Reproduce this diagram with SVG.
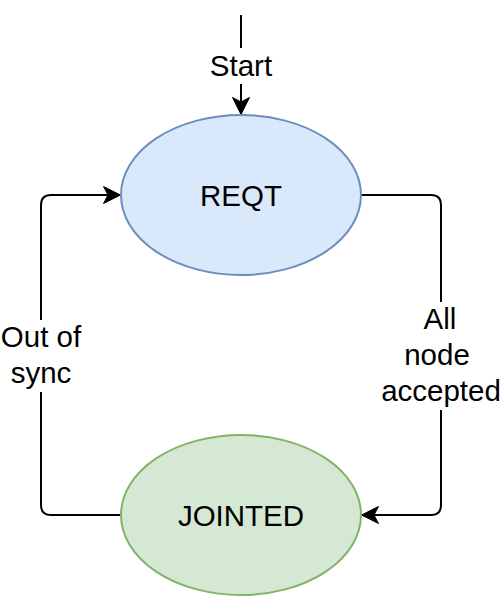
<svg xmlns="http://www.w3.org/2000/svg" width="502" height="596" viewBox="0 0 502 596">
<style>
  text { font-family: "Liberation Sans", Arial, sans-serif; font-size: 29.5px; fill: #000000; text-anchor: middle; }
  .edge { fill: none; stroke: #000000; stroke-width: 2; }
  .lblbg { fill: #ffffff; stroke: none; }
</style>
<defs>
  <marker id="arrow" markerUnits="userSpaceOnUse" markerWidth="20" markerHeight="20" viewBox="-18 -10 20 20" refX="0" refY="0" orient="auto">
    <path d="M0,0 L-17,-8.5 L-12.5,0 L-17,8.5 Z" fill="#000000" stroke="#000000" stroke-width="1"/>
  </marker>
</defs>
<rect x="0" y="0" width="502" height="596" fill="#ffffff"/>
<g id="connectors">
  <g id="edge-start">
    <path class="edge" d="M241,15 L241,114.5" marker-end="url(#arrow)"/>
    <rect class="lblbg" x="206" y="48" width="70" height="36"/>
    <text x="241" y="76">Start</text>
  </g>
  <g id="edge-accepted">
    <path class="edge" d="M361,195 L431,195 Q441,195 441,205 L441,505 Q441,515 431,515 L361.5,515" marker-end="url(#arrow)"/>
    <rect class="lblbg" x="380" y="302" width="122" height="108"/>
    <text x="440" y="329">All</text>
    <text x="437" y="365">node</text>
    <text x="441" y="401">accepted</text>
  </g>
  <g id="edge-outofsync">
    <path class="edge" d="M121,515 L51,515 Q41,515 41,505 L41,205 Q41,195 51,195 L120.5,195" marker-end="url(#arrow)"/>
    <rect class="lblbg" x="0" y="320" width="84" height="72"/>
    <text x="41" y="347">Out of</text>
    <text x="41" y="383">sync</text>
  </g>
</g>
<g id="node-reqt">
  <ellipse cx="241" cy="195" rx="120" ry="80" fill="#dae8fc" stroke="#6c8ebf" stroke-width="2"/>
  <text x="241" y="206">REQT</text>
</g>
<g id="node-jointed">
  <ellipse cx="241" cy="515" rx="120" ry="80" fill="#d5e8d4" stroke="#82b366" stroke-width="2"/>
  <text x="241" y="526">JOINTED</text>
</g>
</svg>
